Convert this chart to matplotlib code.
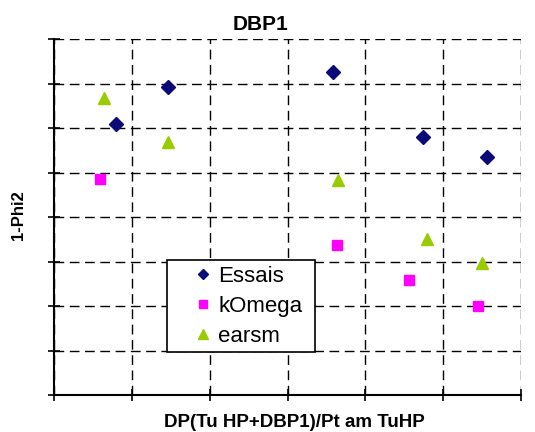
import matplotlib
matplotlib.use("Agg")
import matplotlib.pyplot as plt

plt.rcParams['font.family'] = ['Liberation Sans', 'DejaVu Sans']

title = "DBP1"
xlabel = "DP(Tu HP+DBP1)/Pt am TuHP"
ylabel = "1-Phi2"

essais_x = [0.80, 1.47, 3.58, 4.74, 5.56]
essais_y = [6.09, 6.92, 7.26, 5.80, 5.35]

komega_x = [0.59, 3.64, 4.56, 5.45]
komega_y = [4.85, 3.37, 2.58, 2.00]

earsm_x = [0.64, 1.47, 3.65, 4.79, 5.50]
earsm_y = [6.67, 5.69, 4.83, 3.51, 2.97]

W, H = 535, 432
fig = plt.figure(figsize=(W / 100, H / 100), dpi=100)
ax = fig.add_axes([54 / W, 1 - 395 / H, 467 / W, 356 / H])
ax.set_xlim(0, 6)
ax.set_ylim(0, 8)
ax.set_xticks(range(0, 7))
ax.set_yticks(range(0, 9))
ax.set_xticklabels([])
ax.set_yticklabels([])
ax.grid(True, color='black', linestyle=(0, (7, 4)), linewidth=1.0)
ax.set_axisbelow(True)
ax.tick_params(direction='inout', length=8, width=1.2, color='black')
for s in ['top', 'right']:
    ax.spines[s].set_visible(False)
for s in ['left', 'bottom']:
    ax.spines[s].set_linewidth(1.5)
    ax.spines[s].set_zorder(5)

ax.plot(essais_x, essais_y, linestyle='none', marker='D', ms=7, color='#0a0a78',
        label='Essais', zorder=6)
ax.plot(komega_x, komega_y, linestyle='none', marker='s', ms=7.5, color='#ff00ff',
        label='kOmega', zorder=6)
ax.plot(earsm_x, earsm_y, linestyle='none', marker='^', ms=9, color='#99cc00',
        label='earsm', zorder=6)

leg = ax.legend(loc='upper left', bbox_to_anchor=(113 / 467, 40 / 356, 148 / 467, 95 / 356),
                mode='expand', fontsize=16,
                frameon=True, fancybox=False, shadow=False, handlelength=2.73,
                handletextpad=-0.69, labelspacing=0.4, borderpad=0.26,
                borderaxespad=0, markerscale=0.75, framealpha=1)
leg.get_frame().set_edgecolor('black')
leg.get_frame().set_linewidth(1.2)
leg.set_zorder(7)

fig.text(261 / W, 1 - 30 / H, title, fontsize=15, fontweight='bold',
         ha='center', va='baseline')
fig.text(294 / W, 1 - 427 / H, xlabel, fontsize=13.5, fontweight='bold',
         ha='center', va='baseline')
fig.text(18 / W, 1 - 215 / H, ylabel, fontsize=12, fontweight='bold',
         ha='center', va='center', rotation=90)

fig.savefig("out.png", dpi=100)
